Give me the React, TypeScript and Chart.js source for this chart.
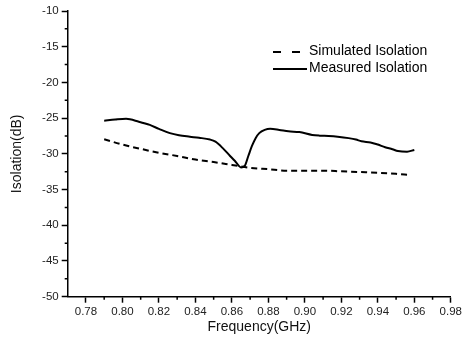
import React, { useEffect, useRef } from "react";
import { Chart, registerables } from "chart.js";

Chart.register(...registerables);

// ---- Data ----
const seriesNames = ["Simulated Isolation", "Measured Isolation"];

const simFreq = [0.790, 0.800, 0.810, 0.820, 0.830, 0.840, 0.850, 0.860, 0.870, 0.880, 0.890, 0.900, 0.910, 0.920, 0.930, 0.940, 0.950, 0.957];
const simDb = [-27.95, -28.7, -29.3, -29.85, -30.3, -30.8, -31.15, -31.55, -31.95, -32.15, -32.35, -32.35, -32.35, -32.45, -32.55, -32.65, -32.8, -32.95];

const measFreq = [0.790, 0.796, 0.802, 0.809, 0.815, 0.820, 0.826, 0.831, 0.837, 0.842, 0.848, 0.851, 0.855, 0.859, 0.862, 0.865, 0.867, 0.869, 0.871, 0.873, 0.875, 0.878, 0.881, 0.886, 0.891, 0.897, 0.904, 0.908, 0.913, 0.918, 0.924, 0.928, 0.931, 0.936, 0.940, 0.944, 0.948, 0.951, 0.956, 0.960];
const measDb = [-25.35, -25.2, -25.1, -25.5, -25.95, -26.5, -27.1, -27.4, -27.6, -27.75, -28.0, -28.3, -29.2, -30.3, -31.1, -31.9, -31.7, -30.3, -28.9, -27.8, -27.1, -26.65, -26.5, -26.65, -26.85, -26.95, -27.35, -27.45, -27.5, -27.6, -27.8, -28.0, -28.25, -28.4, -28.7, -29.07, -29.35, -29.6, -29.7, -29.45];

const xTicks = [0.78, 0.80, 0.82, 0.84, 0.86, 0.88, 0.90, 0.92, 0.94, 0.96, 0.98];
const xMinorTicks = [0.79, 0.81, 0.83, 0.85, 0.87, 0.89, 0.91, 0.93, 0.95, 0.97];
const yTicks = [-50, -45, -40, -35, -30, -25, -20, -15, -10];
const yMinorTicks = [-47.5, -42.5, -37.5, -32.5, -27.5, -22.5, -17.5, -12.5];

const xTitle = "Frequency(GHz)";
const yTitle = "Isolation(dB)";

const FONT = '"Liberation Sans", Arial, sans-serif';

const minorTicksPlugin = {
  id: "minorTicks",
  afterDraw(chart: any) {
    const ctx = chart.ctx;
    const xs = chart.scales.x;
    const ys = chart.scales.y;
    const area = chart.chartArea;
    ctx.save();
    ctx.strokeStyle = "#000";
    ctx.lineWidth = 1.5;
    ctx.beginPath();
    xMinorTicks.forEach((v) => {
      const px = xs.getPixelForValue(v);
      ctx.moveTo(px, area.bottom);
      ctx.lineTo(px, area.bottom + 3);
    });
    yMinorTicks.forEach((v) => {
      const py = ys.getPixelForValue(v);
      ctx.moveTo(area.left, py);
      ctx.lineTo(area.left - 3, py);
    });
    ctx.stroke();
    ctx.restore();
  },
};

const legendPlugin = {
  id: "customLegend",
  afterDraw(chart: any) {
    const ctx = chart.ctx;
    ctx.save();
    ctx.strokeStyle = "#000";
    ctx.lineWidth = 2;
    // dashed sample
    ctx.setLineDash([8, 11]);
    ctx.beginPath();
    ctx.moveTo(273, 52);
    ctx.lineTo(301, 52);
    ctx.stroke();
    // solid sample
    ctx.setLineDash([]);
    ctx.beginPath();
    ctx.moveTo(273, 69);
    ctx.lineTo(307, 69);
    ctx.stroke();
    ctx.fillStyle = "#000";
    ctx.font = `14px ${FONT}`;
    ctx.textBaseline = "middle";
    ctx.textAlign = "left";
    ctx.fillText(seriesNames[0], 309, 51);
    ctx.fillText(seriesNames[1], 309, 68);
    ctx.restore();
  },
};

export default function App() {
  const ref = useRef<HTMLCanvasElement | null>(null);

  useEffect(() => {
    if (!ref.current) return;
    const chart = new Chart(ref.current, {
      type: "line",
      data: {
        datasets: [
          {
            label: seriesNames[0],
            data: simFreq.map((f, i) => ({ x: f, y: simDb[i] })),
            borderColor: "#000",
            borderWidth: 2,
            borderDash: [6, 4],
            pointRadius: 0,
            fill: false,
            cubicInterpolationMode: "monotone",
          },
          {
            label: seriesNames[1],
            data: measFreq.map((f, i) => ({ x: f, y: measDb[i] })),
            borderColor: "#000",
            borderWidth: 2,
            pointRadius: 0,
            fill: false,
            cubicInterpolationMode: "monotone",
          },
        ],
      },
      options: {
        responsive: false,
        animation: false,
        devicePixelRatio: 1,
        layout: { padding: { left: 0, top: 11, right: 10.7, bottom: 0 } },
        plugins: {
          legend: { display: false },
          tooltip: { enabled: false },
        },
        scales: {
          x: {
            type: "linear",
            min: 0.77,
            max: 0.98,
            afterBuildTicks: (scale: any) => {
              scale.ticks = xTicks.map((v) => ({ value: v }));
            },
            afterFit: (scale: any) => {
              scale.height = 42.3;
            },
            ticks: {
              autoSkip: false,
              maxRotation: 0,
              minRotation: 0,
              padding: 2,
              color: "#222",
              font: { family: FONT, size: 11.5 },
              callback: (v: any) => Number(v).toFixed(2),
            },
            grid: {
              drawOnChartArea: false,
              drawTicks: true,
              tickLength: 6,
              tickColor: "#000",
              tickWidth: 1.5,
            },
            border: { display: true, color: "#000", width: 1.5 },
            title: {
              display: true,
              text: xTitle,
              color: "#111",
              font: { family: FONT, size: 14 },
              padding: { top: 0, bottom: 3.6 },
            },
          },
          y: {
            type: "linear",
            min: -50,
            max: -10,
            afterBuildTicks: (scale: any) => {
              scale.ticks = yTicks.map((v) => ({ value: v }));
            },
            afterFit: (scale: any) => {
              scale.width = 67.7;
            },
            ticks: {
              autoSkip: false,
              padding: 3,
              color: "#222",
              font: { family: FONT, size: 11.5 },
              callback: (v: any) => String(v),
            },
            grid: {
              drawOnChartArea: false,
              drawTicks: true,
              tickLength: 6,
              tickColor: "#000",
              tickWidth: 1.5,
            },
            border: { display: true, color: "#000", width: 1.5 },
            title: {
              display: true,
              text: yTitle,
              color: "#111",
              font: { family: FONT, size: 14 },
              padding: { top: 8.3, bottom: 0 },
            },
          },
        },
      },
      plugins: [minorTicksPlugin, legendPlugin],
    } as any);
    return () => chart.destroy();
  }, []);

  return (
    <div style={{ position: "fixed", left: 0, top: 0, width: 464, height: 339, background: "#fff" }}>
      <canvas ref={ref} width={464} height={339} style={{ display: "block", width: 464, height: 339 }} />
    </div>
  );
}
